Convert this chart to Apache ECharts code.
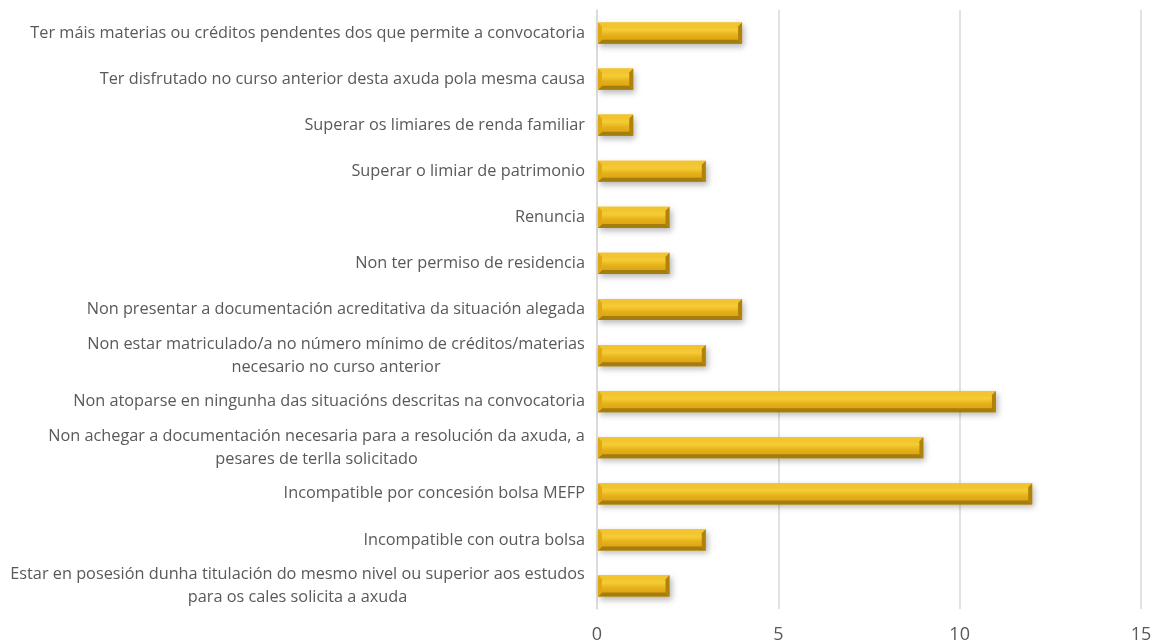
<!DOCTYPE html>
<html>
<head>
<meta charset="utf-8">
<script src="https://cdn.jsdelivr.net/npm/echarts@6/dist/echarts.min.js"></script>
<style>
  html, body { margin: 0; padding: 0; background: #fff; }
  #chart { width: 1154px; height: 644px; }
</style>
</head>
<body>
<div id="chart"></div>
<script>
// categorías de abaixo a arriba (orde do eixo)
const categories = [
  'Estar en posesión dunha titulación do mesmo nivel ou superior aos estudos\npara os cales solicita a axuda',
  'Incompatible con outra bolsa',
  'Incompatible por concesión bolsa MEFP',
  'Non achegar a documentación necesaria para a resolución da axuda, a\npesares de terlla solicitado',
  'Non atoparse en ningunha das situacións descritas na convocatoria',
  'Non estar matriculado/a no número mínimo de créditos/materias\nnecesario no curso anterior',
  'Non presentar a documentación acreditativa da situación alegada',
  'Non ter permiso de residencia',
  'Renuncia',
  'Superar o limiar de patrimonio',
  'Superar os limiares de renda familiar',
  'Ter disfrutado no curso anterior desta axuda pola mesma causa',
  'Ter máis materias ou créditos pendentes dos que permite a convocatoria'
]
const values = [2, 3, 12, 9, 11, 3, 4, 2, 2, 3, 1, 1, 4]
const xTicks = [0, 5, 10, 15]

const LABEL_SIZE = 16.3
const LABEL_COLOR = '#595959'

// medir as liñas para centralas dentro do bloque aliñado á dereita
const ctx = document.createElement('canvas').getContext('2d')
ctx.font = LABEL_SIZE + 'px "Open Sans"'
const rich = {}
const labelText = categories.map((c, i) => {
  const lines = c.split('\n')
  if (lines.length === 1) return c
  const w = Math.ceil(Math.max(...lines.map(l => ctx.measureText(l).width)))
  rich['l' + i] = { width: w, align: 'center', fontSize: LABEL_SIZE, fontFamily: 'Open Sans', color: LABEL_COLOR, lineHeight: 23 }
  return lines.map(l => `{l${i}|${l}}`).join('\n')
})

function renderBar(params, api) {
  const idx = api.value(0)
  const v = api.value(1)
  const p0 = api.coord([0, idx])
  const p1 = api.coord([v, idx])
  const h = api.size([0, 1])[1] * 0.46
  const x0 = p0[0] + 1, x1 = p1[0]
  const y0 = p0[1] - h / 2, y1 = p0[1] + h / 2
  const b = Math.min(4, (x1 - x0) / 4)
  return {
    type: 'group',
    children: [
      {
        type: 'rect',
        shape: { x: x0, y: y0, width: x1 - x0, height: h },
        style: {
          fill: new echarts.graphic.LinearGradient(0, 0, 0, 1, [
            { offset: 0, color: '#eebd24' },
            { offset: 0.35, color: '#f5cc36' },
            { offset: 0.6, color: '#e6b01a' },
            { offset: 1, color: '#d49e10' }
          ]),
          shadowBlur: 6,
          shadowOffsetX: 2,
          shadowOffsetY: 3,
          shadowColor: 'rgba(0,0,0,0.28)'
        }
      },
      {
        type: 'polygon',
        shape: { points: [[x0, y0], [x1, y0], [x1 - b, y0 + b], [x0 + b, y0 + b]] },
        style: { fill: '#f2c430' }
      },
      {
        type: 'polygon',
        shape: { points: [[x0, y1], [x1, y1], [x1 - b, y1 - b], [x0 + b, y1 - b]] },
        style: { fill: '#a57c0e' }
      },
      {
        type: 'polygon',
        shape: { points: [[x0, y0], [x0 + b, y0 + b], [x0 + b, y1 - b], [x0, y1]] },
        style: { fill: '#dfa814' }
      },
      {
        type: 'polygon',
        shape: { points: [[x1, y0], [x1 - b, y0 + b], [x1 - b, y1 - b], [x1, y1]] },
        style: { fill: '#b0820a' }
      }
    ]
  }
}

const chart = echarts.init(document.getElementById('chart'), null, { renderer: 'canvas' })
chart.setOption({
  backgroundColor: '#fff',
  animation: false,
  grid: { left: 597, right: 13, top: 10, bottom: 35, containLabel: false, outerBoundsMode: 'none' },
  xAxis: {
    type: 'value',
    min: xTicks[0],
    max: xTicks[xTicks.length - 1],
    interval: 5,
    axisLine: { show: false },
    axisTick: { show: false },
    splitLine: { show: true, lineStyle: { color: '#d9d9d9', width: 1.5 } },
    axisLabel: { color: LABEL_COLOR, fontSize: 18, fontFamily: 'Open Sans', margin: 17, lineHeight: 18 }
  },
  yAxis: {
    type: 'category',
    data: labelText,
    axisLine: { show: true, lineStyle: { color: '#d9d9d9', width: 1.5 } },
    axisTick: { show: false },
    axisLabel: {
      color: LABEL_COLOR, fontSize: LABEL_SIZE, fontFamily: 'Open Sans', margin: 12,
      lineHeight: 23, interval: 0, rich: rich
    }
  },
  series: [{
    type: 'custom',
    renderItem: renderBar,
    encode: { x: 1, y: 0 },
    data: values.map((v, i) => [i, v])
  }]
})
</script>
</body>
</html>
